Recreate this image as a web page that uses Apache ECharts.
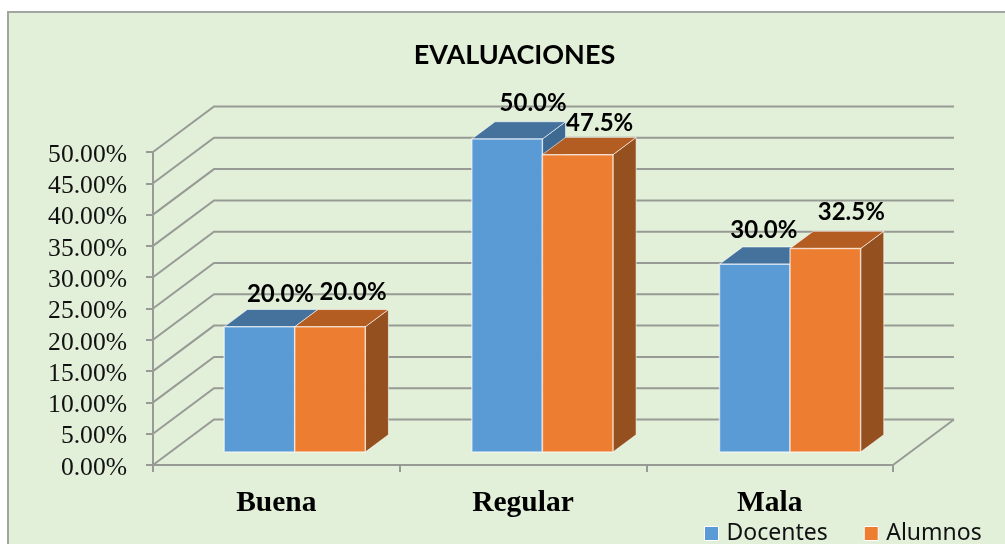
<!DOCTYPE html>
<html>
<head>
<meta charset="utf-8">
<script src="https://cdn.jsdelivr.net/npm/echarts@6/dist/echarts.min.js"></script>
<style>
html,body{margin:0;padding:0;background:#fff;width:1005px;height:544px;overflow:hidden}
#panel{position:absolute;left:7px;top:11px;width:998px;height:533px;background:#E2EFD9;border-left:2px solid #A3A6A0;border-top:2px solid #A3A6A0;box-sizing:border-box}
#chart{position:absolute;left:0;top:0;width:1005px;height:544px;filter:blur(0.45px)}
</style>
</head>
<body>
<div id="panel"></div>
<div id="chart"></div>
<script>
const categories = ['Buena', 'Regular', 'Mala'];
const docentes = [20.0, 50.0, 30.0];
const alumnos = [20.0, 47.5, 32.5];
const yTicks = [0, 5, 10, 15, 20, 25, 30, 35, 40, 45, 50];

// Projection of chart depth onto the screen, and the bar box inside that depth.
const DEPTH_X = 61, DEPTH_Y = -45.5;
const BAR_START = 0.285, BAR_DEPTH = 0.38, BAR_BAND = 0.286, BAR_SHIFT = 1;
const GRID_COLOR = '#989B95';
const LABEL_FONT = 'Lato';
// Hand placed data labels in the source chart: [x, y] shift per series, per category.
const labelNudge = [
  [[-2, 1], [3, -2], [-14, 0]],
  [[0, -1], [-1, 3], [3, -2]]
];

function wallItem(params, api) {
  const cs = params.coordSys;
  const y = api.coord([0, api.value(1)])[1];
  const x0 = cs.x, x1 = cs.x + cs.width;
  return {
    type: 'polyline',
    silent: true,
    shape: { points: [[x0, y], [x0 + DEPTH_X, y + DEPTH_Y], [x1 + DEPTH_X, y + DEPTH_Y]] },
    style: { fill: null, stroke: GRID_COLOR, lineWidth: 2 }
  };
}

function floorItem(params, api) {
  const cs = params.coordSys;
  const y = api.coord([0, 0])[1];
  const x1 = cs.x + cs.width;
  return {
    type: 'line',
    silent: true,
    shape: { x1: x1, y1: y, x2: x1 + DEPTH_X, y2: y + DEPTH_Y },
    style: { stroke: GRID_COLOR, lineWidth: 2 }
  };
}

function barRenderer(seriesIndex, front, top, side) {
  return function (params, api) {
    const cat = api.value(0), val = api.value(1);
    const band = api.size([1, 0])[0];
    const w = band * BAR_BAND;
    const sx = DEPTH_X * BAR_START + BAR_SHIFT * (cat + 1), sy = DEPTH_Y * BAR_START;
    const dx = DEPTH_X * BAR_DEPTH, dy = DEPTH_Y * BAR_DEPTH;
    const cx = api.coord([cat, 0])[0] + sx;
    const x0 = cx + (seriesIndex === 0 ? -w : 0), x1 = x0 + w;
    const yb = api.coord([cat, 0])[1] + sy;
    const yt = api.coord([cat, val])[1] + sy;
    const edge = 'rgba(255,255,255,0.6)';
    const n = labelNudge[seriesIndex][cat];
    return {
      type: 'group',
      children: [
        { type: 'polygon', shape: { points: [[x1, yb], [x1 + dx, yb + dy], [x1 + dx, yt + dy], [x1, yt]] },
          style: { fill: side, stroke: edge, lineWidth: 1 } },
        { type: 'polygon', shape: { points: [[x0, yt], [x1, yt], [x1 + dx, yt + dy], [x0 + dx, yt + dy]] },
          style: { fill: top, stroke: edge, lineWidth: 1 } },
        { type: 'rect', shape: { x: x0, y: yt, width: w, height: yb - yt },
          style: { fill: front, stroke: edge, lineWidth: 1.5 } },
        { type: 'text', z2: 10,
          style: {
            x: (x0 + x1) / 2 + 23 + n[0], y: yt - 34 + n[1],
            text: val.toFixed(1) + '%',
            fill: '#000', align: 'center', verticalAlign: 'middle',
            font: 'bold 24px ' + LABEL_FONT
          } }
      ]
    };
  };
}

const chart = echarts.init(document.getElementById('chart'), null, { renderer: 'canvas' });
chart.setOption({
  animation: false,
  backgroundColor: 'transparent',
  title: {
    text: 'EVALUACIONES',
    left: 509.5, top: 37, textAlign: 'center',
    textStyle: { fontFamily: 'Lato', fontWeight: 'bold', fontSize: 27, color: '#000' }
  },
  legend: {
    data: ['Docentes', 'Alumnos'],
    left: 704, top: 522, padding: 0,
    itemWidth: 14, itemHeight: 14, itemGap: 36,
    icon: 'rect',
    itemStyle: { borderColor: '#fff', borderWidth: 1 },
    textStyle: { fontFamily: 'Noto Sans', fontSize: 23, color: '#111', padding: [0, 0, 0, 3] }
  },
  grid: { left: 153, top: 152, width: 740, height: 313, containLabel: false },
  xAxis: {
    type: 'category',
    data: categories,
    axisLine: { lineStyle: { color: GRID_COLOR, width: 2 } },
    axisTick: { show: true, length: 7, lineStyle: { color: GRID_COLOR, width: 2 } },
    axisLabel: { fontFamily: 'Liberation Serif', fontWeight: 'bold', fontSize: 29.5, color: '#000', margin: 23 }
  },
  yAxis: {
    type: 'value',
    min: 0, max: 50, interval: 5,
    axisLine: { show: true, lineStyle: { color: GRID_COLOR, width: 2 } },
    axisTick: { show: true, length: 7, lineStyle: { color: GRID_COLOR, width: 2 } },
    splitLine: { show: false },
    axisLabel: {
      margin: 26,
      formatter: v => '{t|' + v.toFixed(2) + '%}',
      rich: { t: { fontFamily: 'Liberation Serif', fontSize: 25.6, color: '#111', padding: [6, 0, 0, 0] } }
    }
  },
  series: [
    { name: 'walls', type: 'custom', silent: true, z: 1, renderItem: wallItem,
      data: yTicks.map(v => [0, v]), encode: { x: 0, y: 1 } },
    { name: 'floor', type: 'custom', silent: true, z: 1, renderItem: floorItem,
      data: [[0, 0]], encode: { x: 0, y: 1 } },
    { name: 'Docentes', type: 'custom', z: 3, itemStyle: { color: '#5B9BD5' },
      renderItem: barRenderer(0, '#5B9BD5', '#44729D', '#3E6A92'),
      data: docentes.map((v, i) => [i, v]), encode: { x: 0, y: 1 } },
    { name: 'Alumnos', type: 'custom', z: 4, itemStyle: { color: '#ED7D31' },
      renderItem: barRenderer(1, '#ED7D31', '#B35D22', '#95501F'),
      data: alumnos.map((v, i) => [i, v]), encode: { x: 0, y: 1 } }
  ]
});
</script>
</body>
</html>
